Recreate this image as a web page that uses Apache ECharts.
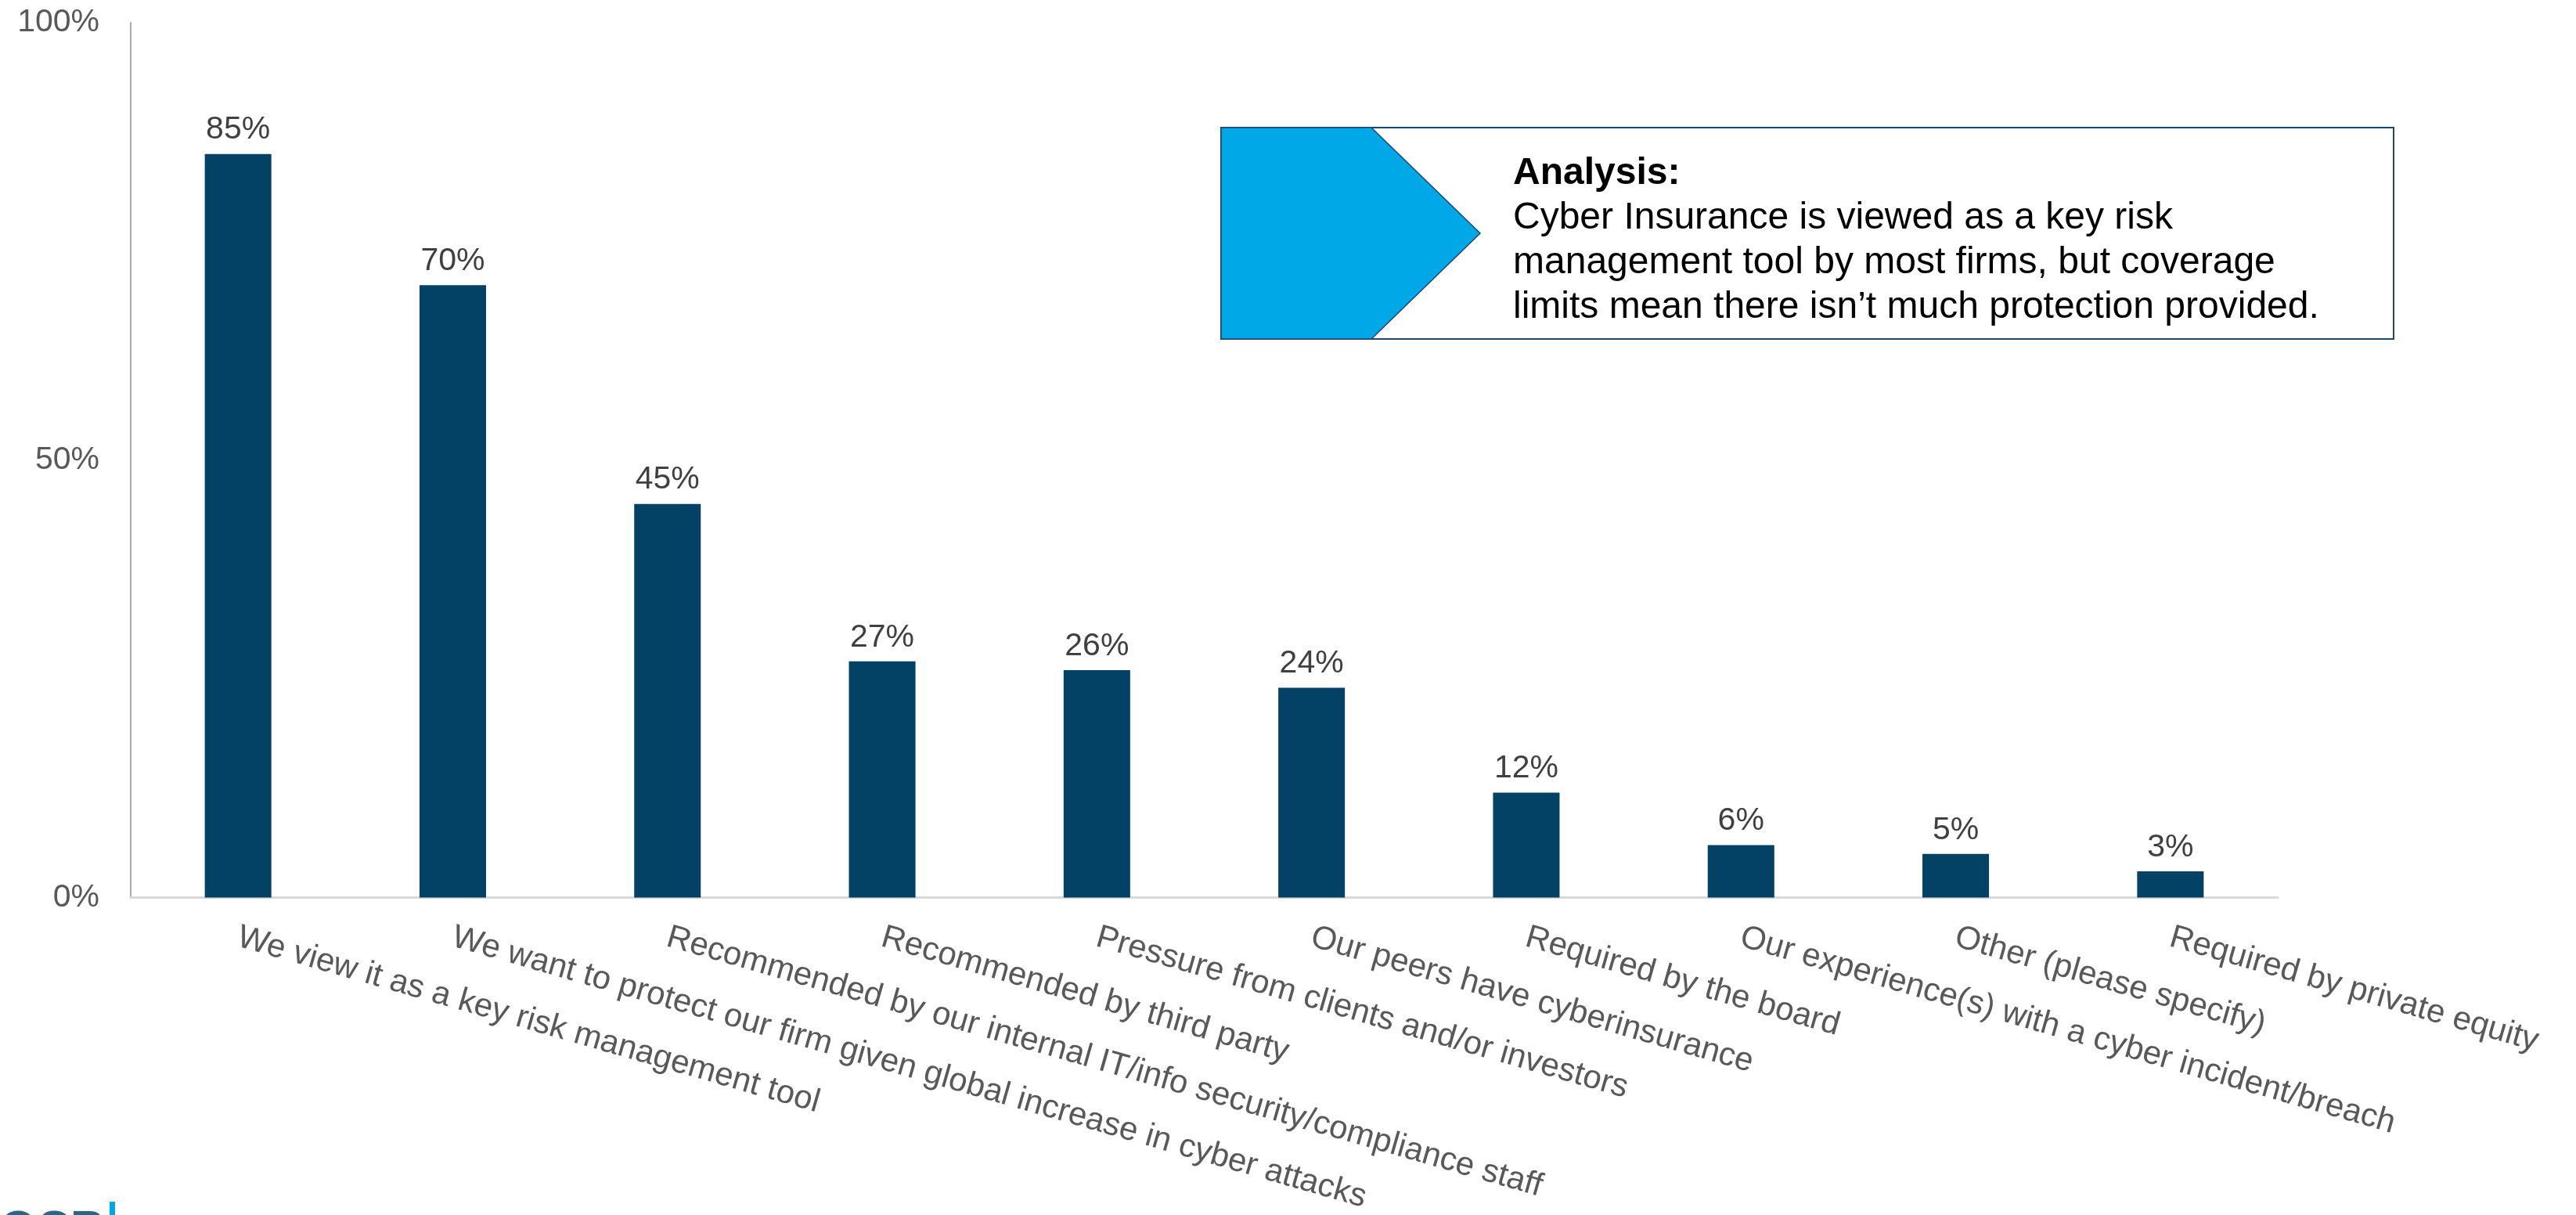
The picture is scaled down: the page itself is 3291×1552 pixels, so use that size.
<!DOCTYPE html>
<html>
<head>
<meta charset="utf-8">
<title>Reasons for purchasing cyber insurance</title>
<script src="https://cdn.jsdelivr.net/npm/echarts@6/dist/echarts.min.js"></script>
<style>
  html, body { margin: 0; padding: 0; background: #ffffff; }
  #chart { width: 3291px; height: 1552px; }
</style>
</head>
<body>
<div id="chart"></div>
<script>
// Survey reasons (x categories)
const categories = [
  'We view it as a key risk management tool',
  'We want to protect our firm given global increase in cyber attacks',
  'Recommended by our internal IT/info security/compliance staff',
  'Recommended by third party',
  'Pressure from clients and/or investors',
  'Our peers have cyberinsurance',
  'Required by the board',
  'Our experience(s) with a cyber incident/breach',
  'Other (please specify)',
  'Required by private equity'
];

// Share of respondents, in percent
const shares = [85, 70, 45, 27, 26, 24, 12, 6, 5, 3];

// Value axis ticks, in percent
const yTicks = [0, 50, 100];

// Callout text
const calloutTitle = 'Analysis:';
const calloutLines = [
  'Cyber Insurance is viewed as a key risk',
  'management tool by most firms, but coverage',
  'limits mean there isn\u2019t much protection provided.'
];

const FONT = '"Liberation Sans", Arial, Helvetica, sans-serif';
const BAR_COLOR = '#034165';
const ACCENT = '#00a8e8';
const FRAME = '#1f4670';

const chart = echarts.init(document.getElementById('chart'), null, { renderer: 'canvas' });

chart.setOption({
  backgroundColor: '#ffffff',
  animation: false,
  textStyle: { fontFamily: FONT },
  grid: { left: 167, right: 381, top: 29, bottom: 405, containLabel: false },
  xAxis: {
    type: 'category',
    data: categories,
    axisLine: { show: true, lineStyle: { color: '#d9d9d9', width: 3 } },
    axisTick: { show: false },
    splitLine: { show: false },
    axisLabel: {
      interval: 0,
      rotate: -16,
      margin: 50,
      fontSize: 42,
      fontFamily: FONT,
      color: '#595959'
    }
  },
  yAxis: {
    type: 'value',
    min: yTicks[0],
    max: yTicks[yTicks.length - 1],
    interval: yTicks[1] - yTicks[0],
    axisLine: { show: true, lineStyle: { color: '#b0aaaa', width: 2 } },
    axisTick: { show: false },
    splitLine: { show: false },
    axisLabel: {
      margin: 40,
      fontSize: 41,
      fontFamily: FONT,
      color: '#595959',
      formatter: '{value}%'
    }
  },
  series: [{
    type: 'bar',
    data: shares,
    barWidth: '31%',
    itemStyle: { color: BAR_COLOR },
    label: {
      show: true,
      position: 'top',
      distance: 10,
      fontSize: 41,
      fontFamily: FONT,
      color: '#404040',
      formatter: '{c}%'
    }
  }],
  graphic: [
    // callout frame
    {
      type: 'rect',
      shape: { x: 1560, y: 163, width: 1498, height: 270 },
      style: { fill: '#ffffff', stroke: FRAME, lineWidth: 2 },
      z: 10
    },
    // chevron
    {
      type: 'polygon',
      shape: { points: [[1560, 163], [1752, 163], [1891, 298], [1752, 433], [1560, 433]] },
      style: { fill: ACCENT, stroke: FRAME, lineWidth: 1.5 },
      z: 11
    },
    // callout text
    {
      type: 'text',
      x: 1933,
      y: 193,
      z: 12,
      style: {
        text: '{b|' + calloutTitle + '}\n' + calloutLines.join('\n'),
        fontFamily: FONT,
        fontSize: 48,
        lineHeight: 57,
        fill: '#000000',
        verticalAlign: 'top',
        align: 'left',
        rich: {
          b: { fontFamily: FONT, fontSize: 48, fontWeight: 'bold', lineHeight: 57, fill: '#000000' }
        }
      }
    },
    // footer mark
    {
      type: 'text',
      x: 0,
      y: 1541,
      z: 5,
      style: {
        text: 'OCR',
        fontFamily: FONT,
        fontSize: 60,
        fontWeight: 'bold',
        fill: '#2b6688',
        verticalAlign: 'top'
      }
    },
    {
      type: 'rect',
      shape: { x: 140, y: 1535, width: 7, height: 17 },
      style: { fill: ACCENT },
      z: 5
    }
  ]
});
</script>
</body>
</html>
